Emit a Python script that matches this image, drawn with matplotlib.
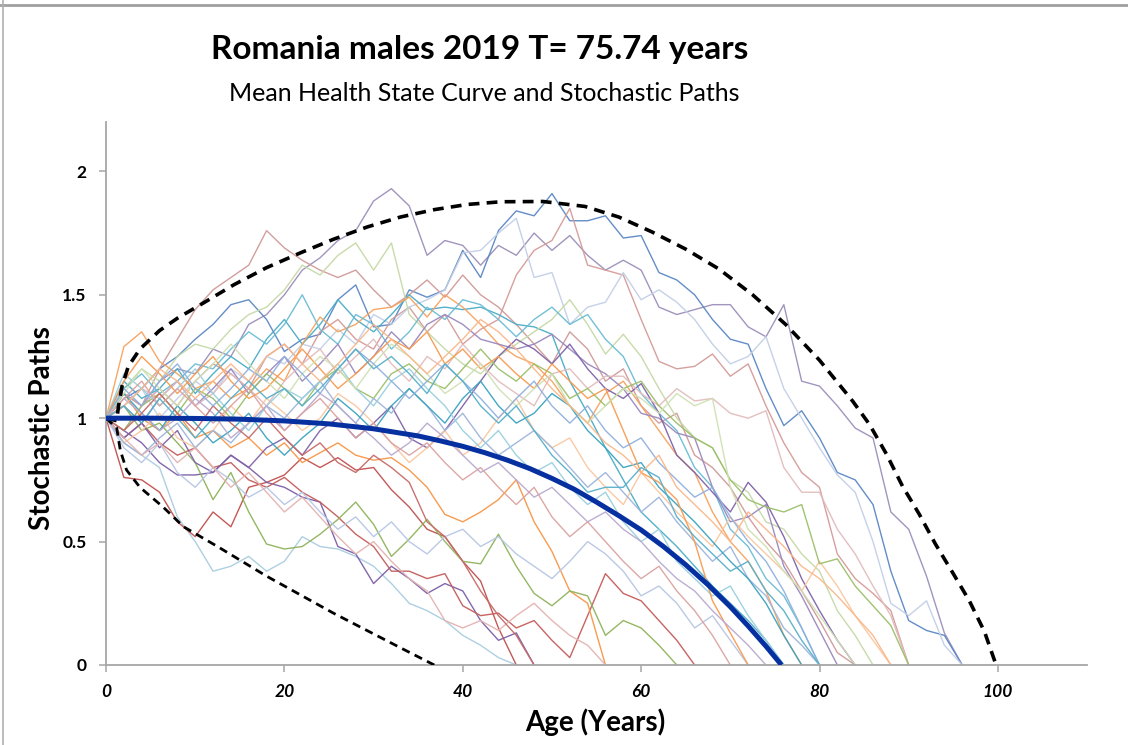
# Romania males 2019 - mean health state curve with stochastic paths
import numpy as np
import matplotlib
matplotlib.use("Agg")
import matplotlib.pyplot as plt
from matplotlib.lines import Line2D

plt.rcParams['font.family'] = ['Lato', 'DejaVu Sans']

# step between recorded path values (years)
step = 2

# stochastic paths, one value every 2 years from age 0 until the path hits 0
path_01 = [1.0, 1.10, 1.05, 1.15, 1.20, 1.18, 1.28, 1.25, 1.38, 1.42, 1.50, 1.60, 1.65, 1.72, 1.76, 1.88, 1.93, 1.86,
           1.66, 1.72, 1.70, 1.62, 1.70, 1.66, 1.75, 1.68, 1.74, 1.66, 1.60, 1.64, 1.60, 1.45, 1.42, 1.44, 1.46, 1.46,
           1.37, 1.33, 1.46, 1.15, 1.13, 1.05, 0.96, 0.92, 0.62, 0.55, 0.36, 0.13, 0.0]
path_02 = [1.0, 1.08, 1.12, 1.20, 1.25, 1.32, 1.38, 1.46, 1.48, 1.40, 1.27, 1.32, 1.34, 1.48, 1.54, 1.37, 1.38, 1.52,
           1.49, 1.52, 1.68, 1.57, 1.76, 1.84, 1.82, 1.91, 1.80, 1.80, 1.82, 1.73, 1.74, 1.59, 1.56, 1.50, 1.40, 1.32,
           1.30, 1.12, 0.97, 1.03, 0.92, 0.78, 0.75, 0.65, 0.38, 0.18, 0.14, 0.12, 0.0]
path_03 = [1.0, 1.10, 1.05, 1.20, 1.32, 1.44, 1.52, 1.57, 1.62, 1.76, 1.69, 1.64, 1.60, 1.57, 1.60, 1.52, 1.45, 1.50,
           1.56, 1.49, 1.58, 1.50, 1.45, 1.38, 1.30, 1.22, 1.35, 1.28, 1.15, 1.20, 1.05, 0.98, 1.02, 0.85, 0.80, 0.72,
           0.60, 0.50, 0.42, 0.30, 0.18, 0.05, 0.0]
path_04 = [1.0, 0.95, 1.05, 1.12, 1.05, 1.15, 1.22, 1.18, 1.12, 1.25, 1.30, 1.22, 1.35, 1.40, 1.32, 1.28, 1.40, 1.45,
           1.35, 1.42, 1.30, 1.36, 1.40, 1.58, 1.68, 1.72, 1.85, 1.62, 1.60, 1.58, 1.40, 1.23, 1.20, 1.21, 1.26, 1.17,
           1.22, 1.05, 0.90, 0.78, 0.72, 0.45, 0.35, 0.29, 0.22, 0.0]
path_05 = [1.0, 1.05, 1.12, 1.00, 1.08, 1.15, 1.10, 1.20, 1.15, 1.25, 1.22, 1.30, 1.28, 1.36, 1.30, 1.42, 1.38, 1.45,
           1.48, 1.52, 1.67, 1.68, 1.75, 1.81, 1.57, 1.59, 1.38, 1.45, 1.47, 1.59, 1.48, 1.52, 1.47, 1.40, 1.30, 1.22,
           1.25, 1.33, 1.12, 1.00, 0.88, 0.77, 0.70, 0.50, 0.25, 0.20, 0.26, 0.08, 0.0]
path_06 = [1.0, 0.90, 0.85, 0.80, 0.60, 0.50, 0.38, 0.40, 0.44, 0.38, 0.42, 0.52, 0.48, 0.47, 0.44, 0.40, 0.33, 0.25,
           0.22, 0.18, 0.12, 0.08, 0.03, 0.0]
path_07 = [1.0, 0.76, 0.75, 0.70, 0.58, 0.52, 0.62, 0.56, 0.72, 0.74, 0.77, 0.84, 0.80, 0.84, 0.79, 0.80, 0.71, 0.64,
           0.55, 0.52, 0.42, 0.34, 0.15, 0.0]
path_08 = [1.0, 0.95, 0.90, 0.82, 0.77, 0.77, 0.78, 0.85, 0.80, 0.74, 0.72, 0.68, 0.66, 0.48, 0.45, 0.33, 0.40, 0.35,
           0.29, 0.33, 0.30, 0.18, 0.10, 0.13, 0.0]
path_09 = [1.0, 0.92, 0.98, 0.90, 0.85, 0.88, 0.80, 0.82, 0.75, 0.72, 0.76, 0.70, 0.66, 0.60, 0.53, 0.48, 0.38, 0.38,
           0.35, 0.37, 0.24, 0.20, 0.21, 0.15, 0.18, 0.10, 0.03, 0.20, 0.37, 0.29, 0.26, 0.18, 0.10, 0.0]
path_10 = [1.0, 1.10, 1.00, 0.95, 1.02, 0.92, 0.95, 0.88, 0.92, 0.85, 0.90, 0.82, 0.86, 0.90, 0.85, 0.83, 0.84, 0.79,
           0.72, 0.61, 0.58, 0.62, 0.67, 0.75, 0.58, 0.46, 0.30, 0.25, 0.0]
path_11 = [1.0, 1.05, 0.95, 0.98, 0.90, 0.82, 0.67, 0.78, 0.62, 0.49, 0.47, 0.48, 0.53, 0.59, 0.66, 0.57, 0.44, 0.51,
           0.59, 0.50, 0.42, 0.41, 0.53, 0.40, 0.29, 0.24, 0.30, 0.28, 0.12, 0.18, 0.15, 0.08, 0.0]
path_12 = [1.0, 1.15, 1.08, 1.12, 1.20, 1.10, 1.18, 1.25, 1.20, 1.32, 1.40, 1.30, 1.38, 1.48, 1.40, 1.35, 1.42, 1.50,
           1.44, 1.45, 1.44, 1.45, 1.42, 1.38, 1.37, 1.34, 1.15, 1.02, 0.88, 0.75, 0.62, 0.55, 0.48, 0.40, 0.32, 0.25,
           0.18, 0.10, 0.0]
path_13 = [1.0, 1.12, 1.20, 1.15, 1.25, 1.30, 1.28, 1.36, 1.42, 1.45, 1.52, 1.62, 1.58, 1.66, 1.71, 1.60, 1.71, 1.42,
           1.35, 1.28, 1.22, 1.18, 1.25, 1.30, 1.35, 1.40, 1.48, 1.38, 1.26, 1.34, 1.25, 1.12, 1.00, 0.92, 0.88, 0.75,
           0.70, 0.58, 0.55, 0.45, 0.38, 0.22, 0.12, 0.0]
path_14 = [1.0, 1.29, 1.35, 1.23, 1.18, 1.12, 1.15, 1.08, 1.12, 1.20, 1.15, 1.30, 1.41, 1.35, 1.38, 1.44, 1.45, 1.49,
           1.41, 1.50, 1.45, 1.38, 1.30, 1.25, 1.22, 1.15, 1.05, 0.98, 1.10, 1.15, 1.05, 0.95, 0.85, 0.78, 0.62, 0.50,
           0.42, 0.30, 0.12, 0.0]
path_15 = [1.0, 1.12, 1.18, 1.10, 1.15, 1.22, 1.20, 1.28, 1.35, 1.30, 1.38, 1.50, 1.36, 1.30, 1.42, 1.38, 1.28, 1.35,
           1.45, 1.40, 1.48, 1.46, 1.40, 1.33, 1.40, 1.45, 1.38, 1.42, 1.32, 1.25, 1.10, 1.02, 0.95, 0.80, 0.72, 0.55,
           0.48, 0.35, 0.28, 0.15, 0.0]
path_16 = [1.0, 1.05, 0.98, 1.08, 1.15, 1.05, 1.12, 1.20, 1.10, 1.18, 1.25, 1.15, 1.22, 1.30, 1.18, 1.25, 1.35, 1.28,
           1.38, 1.42, 1.38, 1.32, 1.30, 1.28, 1.30, 1.34, 1.28, 1.22, 1.18, 1.12, 1.02, 1.00, 0.94, 0.92, 0.72, 0.58,
           0.60, 0.65, 0.40, 0.28, 0.14, 0.0]
path_17 = [1.0, 0.92, 0.98, 0.88, 0.95, 0.82, 0.78, 0.85, 0.80, 0.88, 0.92, 0.85, 0.95, 1.00, 0.92, 0.98, 1.05, 0.92,
           0.88, 0.95, 1.05, 1.15, 1.25, 1.32, 1.28, 1.22, 1.30, 1.20, 1.12, 1.08, 1.14, 1.02, 0.85, 0.78, 0.70, 0.62,
           0.74, 0.66, 0.52, 0.35, 0.22, 0.10, 0.0]
path_18 = [1.0, 0.90, 0.95, 1.02, 0.92, 0.88, 0.95, 1.05, 0.98, 1.08, 1.02, 0.95, 1.00, 1.10, 1.05, 0.98, 0.90, 0.82,
           0.88, 0.95, 0.85, 0.90, 1.00, 1.08, 0.95, 0.88, 0.92, 0.80, 0.72, 0.65, 0.78, 0.70, 0.62, 0.55, 0.48, 0.60,
           0.52, 0.45, 0.38, 0.30, 0.42, 0.32, 0.20, 0.10, 0.0]
path_19 = [1.0, 1.05, 1.12, 1.08, 1.15, 1.05, 1.10, 1.18, 1.12, 1.05, 1.15, 1.22, 1.28, 1.18, 1.25, 1.32, 1.22, 1.15,
           1.25, 1.20, 1.30, 1.22, 1.15, 1.10, 1.05, 1.18, 1.20, 1.12, 1.17, 1.17, 1.10, 1.05, 1.12, 1.07, 1.08, 1.02,
           1.00, 1.03, 0.80, 0.70, 0.70, 0.55, 0.45, 0.32, 0.20, 0.0]
path_20 = [1.0, 0.95, 1.05, 1.10, 1.02, 1.12, 1.08, 1.00, 1.10, 1.18, 1.12, 1.05, 1.15, 1.20, 1.12, 1.08, 1.18, 1.22,
           1.15, 1.12, 1.20, 1.28, 1.20, 1.15, 1.22, 1.18, 1.08, 1.12, 1.05, 1.12, 1.15, 1.05, 0.98, 0.92, 0.88, 0.75,
           0.67, 0.64, 0.62, 0.65, 0.41, 0.43, 0.32, 0.24, 0.16, 0.0]
path_21 = [1.0, 0.90, 0.85, 0.92, 0.98, 0.88, 0.95, 0.90, 0.98, 1.05, 1.00, 1.08, 1.15, 1.05, 0.98, 1.08, 1.02, 1.12,
           1.05, 0.95, 1.02, 0.92, 0.85, 0.90, 0.95, 0.88, 0.80, 0.72, 0.78, 0.70, 0.62, 0.68, 0.58, 0.50, 0.42, 0.48,
           0.35, 0.28, 0.15, 0.08, 0.0]
path_22 = [1.0, 0.88, 0.82, 0.90, 0.78, 0.72, 0.80, 0.75, 0.68, 0.72, 0.65, 0.70, 0.62, 0.55, 0.60, 0.52, 0.58, 0.50,
           0.45, 0.52, 0.55, 0.48, 0.52, 0.45, 0.40, 0.35, 0.42, 0.50, 0.45, 0.38, 0.28, 0.32, 0.25, 0.15, 0.20, 0.10,
           0.0]
path_23 = [1.0, 1.10, 1.02, 0.95, 1.05, 0.98, 0.90, 0.95, 1.02, 0.92, 0.85, 0.92, 0.98, 1.08, 1.02, 0.95, 1.05, 1.12,
           1.05, 0.98, 1.08, 1.15, 1.05, 0.98, 1.02, 1.10, 1.05, 0.95, 0.88, 0.80, 0.82, 0.72, 0.65, 0.58, 0.50, 0.42,
           0.35, 0.25, 0.12, 0.0]
path_24 = [1.0, 1.18, 1.12, 1.05, 1.12, 1.20, 1.10, 1.02, 0.95, 1.05, 1.12, 1.08, 1.15, 1.22, 1.12, 1.05, 1.15, 1.20,
           1.12, 1.05, 0.95, 0.88, 0.95, 0.85, 0.78, 0.82, 0.72, 0.65, 0.70, 0.58, 0.50, 0.55, 0.42, 0.35, 0.28, 0.32,
           0.20, 0.10, 0.0]
path_25 = [1.0, 1.15, 1.25, 1.18, 1.10, 1.18, 1.25, 1.15, 1.08, 1.12, 1.20, 1.28, 1.20, 1.12, 1.18, 1.25, 1.32, 1.28,
           1.35, 1.22, 1.28, 1.20, 1.25, 1.18, 1.12, 1.22, 1.15, 1.08, 1.12, 0.95, 0.78, 0.74, 0.67, 0.50, 0.26, 0.13,
           0.0]
path_26 = [1.0, 0.92, 0.85, 0.90, 0.82, 0.88, 0.80, 0.72, 0.78, 0.70, 0.62, 0.68, 0.60, 0.52, 0.45, 0.50, 0.42, 0.35,
           0.30, 0.18, 0.15, 0.18, 0.14, 0.20, 0.25, 0.18, 0.12, 0.08, 0.0]
path_27 = [1.0, 1.08, 1.02, 0.95, 1.00, 1.08, 1.02, 0.92, 0.98, 1.05, 0.95, 1.02, 1.10, 1.05, 0.98, 0.92, 0.85, 0.90,
           0.98, 0.92, 0.85, 0.78, 0.82, 0.75, 0.68, 0.72, 0.65, 0.58, 0.62, 0.55, 0.50, 0.42, 0.35, 0.30, 0.22, 0.15,
           0.08, 0.0]
path_28 = [1.0, 1.10, 1.20, 1.12, 1.05, 1.15, 1.22, 1.30, 1.22, 1.15, 1.08, 1.18, 1.25, 1.20, 1.12, 1.22, 1.30, 1.25,
           1.18, 1.10, 1.15, 1.22, 1.12, 1.05, 1.12, 1.18, 1.05, 0.98, 1.05, 1.12, 1.08, 1.02, 1.10, 1.05, 1.08, 0.72,
           0.55, 0.48, 0.38, 0.30, 0.20, 0.10, 0.0]
path_29 = [1.0, 0.95, 1.02, 1.10, 1.02, 0.95, 1.05, 0.98, 0.92, 1.00, 0.92, 0.85, 0.90, 0.82, 0.78, 0.85, 0.80, 0.74,
           0.58, 0.52, 0.42, 0.30, 0.20, 0.12, 0.0]
path_30 = [1.0, 1.08, 1.15, 1.05, 1.12, 1.05, 0.98, 1.05, 1.12, 1.02, 0.95, 1.02, 1.08, 1.00, 0.92, 0.98, 0.90, 0.85,
           0.90, 0.82, 0.75, 0.80, 0.72, 0.65, 0.72, 0.60, 0.52, 0.58, 0.50, 0.42, 0.35, 0.40, 0.30, 0.22, 0.12, 0.0]
path_31 = [1.0, 1.12, 1.05, 1.15, 1.22, 1.12, 1.05, 1.12, 1.20, 1.15, 1.25, 1.18, 1.10, 1.20, 1.28, 1.22, 1.15, 1.08,
           1.15, 1.22, 1.15, 1.08, 1.00, 1.08, 1.15, 1.05, 0.98, 1.05, 0.95, 0.88, 0.92, 0.82, 0.75, 0.68, 0.72, 0.60,
           0.50, 0.42, 0.30, 0.15, 0.0]
path_32 = [1.0, 1.05, 1.12, 1.20, 1.15, 1.08, 1.15, 1.22, 1.15, 1.25, 1.30, 1.22, 1.15, 1.22, 1.30, 1.38, 1.32, 1.25,
           1.18, 1.25, 1.32, 1.40, 1.35, 1.28, 1.20, 1.12, 1.05, 0.98, 0.90, 0.85, 0.78, 0.85, 0.72, 0.65, 0.58, 0.50,
           0.62, 0.55, 0.48, 0.40, 0.35, 0.28, 0.20, 0.12, 0.0]
path_33 = [1.0, 1.05, 0.98, 1.08, 1.00, 0.92, 1.00, 1.08, 1.15, 1.08, 1.12, 1.05, 1.12, 1.20, 1.28, 1.20, 1.25, 1.18,
           1.10, 1.22, 1.15, 1.05, 0.98, 1.05, 0.95, 0.85, 0.78, 0.70, 0.72, 0.72, 0.80, 0.76, 0.60, 0.52, 0.45, 0.38,
           0.42, 0.30, 0.22, 0.10, 0.0]

paths = [path_01, path_02, path_03, path_04, path_05, path_06, path_07, path_08, path_09, path_10, path_11,
         path_12, path_13, path_14, path_15, path_16, path_17, path_18, path_19, path_20, path_21, path_22,
         path_23, path_24, path_25, path_26, path_27, path_28, path_29, path_30, path_31, path_32, path_33]

path_colors = ["#9c8fba", "#5b87c5", "#cf9a98", "#d49b99", "#c2cfe6", "#a9cde0", "#c0504d", "#7b5ea7",
               "#c45c5a", "#f79646", "#8fb35a", "#4bacc6", "#c5d9a6", "#f7a25e", "#6bbcd4", "#9a88bd",
               "#7f62a8", "#fac7a0", "#e2bcbc", "#9cbf6a", "#9db5db", "#b7c6e3", "#3aa3bf", "#9ad0df",
               "#f89a50", "#e3b3b1", "#b9aacf", "#cfe0b4", "#c66a67", "#dba3a1", "#8fb0de", "#f9b88a",
               "#58b0c9"]

# mean health state curve (T = 75.74)
mean_age = [0, 5, 10, 15, 20, 25, 30, 35, 37.5, 40, 42.5, 45, 47.5, 50, 52.5, 55, 57.5, 60, 62.5, 65, 67.5,
            70, 72, 74, 75.74]
mean_val = [1.0, 1.0, 0.999, 0.996, 0.989, 0.977, 0.957, 0.928, 0.908, 0.886, 0.860, 0.830, 0.796, 0.756,
            0.712, 0.660, 0.605, 0.547, 0.480, 0.406, 0.325, 0.236, 0.158, 0.076, 0.0]

# upper and lower envelope (dashed)
upper_age = [0, 1.2, 1.4, 1.8, 2.5, 3.8, 6, 8, 10.6, 14.3, 18, 21.8, 25.5, 29.3, 33, 36.8, 40.5, 44.3, 49, 53.7,
             57.5, 61.2, 65, 68.7, 72.5, 76.2, 80, 83.7, 85.6, 87.5, 89.3, 91.2, 93, 95, 96.8, 98.5, 99.8]
upper_val = [1.0, 0.99, 1.05, 1.13, 1.21, 1.28, 1.355, 1.405, 1.46, 1.54, 1.61, 1.67, 1.725, 1.775, 1.815,
             1.845, 1.866, 1.877, 1.878, 1.858, 1.815, 1.755, 1.685, 1.605, 1.50, 1.38, 1.235, 1.07, 0.975,
             0.855, 0.725, 0.61, 0.49, 0.37, 0.26, 0.135, 0.0]
lower_age = [0, 1.2, 1.6, 2.3, 3.8, 6.4, 8.7, 12.5, 18, 25.5, 33, 36.8]
lower_val = [1.0, 0.96, 0.87, 0.79, 0.72, 0.64, 0.56, 0.48, 0.36, 0.21, 0.07, 0.0]

x_ticks = [0, 20, 40, 60, 80, 100]
y_ticks = [0, 0.5, 1, 1.5, 2]
y_tick_labels = ["0", "0.5", "1", "1.5", "2"]

fig = plt.figure(figsize=(11.28, 7.45), dpi=100)
ax = fig.add_axes([0.094, 0.1074, 0.8697, 0.7288])

for vals, col in zip(paths, path_colors):
    ages = np.arange(len(vals)) * step
    ax.plot(ages, vals, color=col, lw=1.0, alpha=0.95, zorder=2)

ax.plot(lower_age, lower_val, color="black", lw=2.0, ls=(0, (3, 2)), zorder=3)
ax.plot(upper_age, upper_val, color="black", lw=2.6, ls=(0, (3, 2)), zorder=3)
ax.plot(mean_age, mean_val, color="#0630a0", lw=3.6, solid_capstyle="butt", zorder=4)

ax.set_xlim(0, 110)
ax.set_ylim(0, 2.2)
ax.set_xticks(x_ticks)
ax.set_yticks(y_ticks)
ax.set_yticklabels(y_tick_labels)
for s in ["top", "right"]:
    ax.spines[s].set_visible(False)
for s in ["left", "bottom"]:
    ax.spines[s].set_color("#a6a6a6")
    ax.spines[s].set_linewidth(1.3)
ax.tick_params(axis="both", direction="out", length=5, width=1.1, color="#a6a6a6")
ax.tick_params(axis="y", pad=9)
ax.tick_params(axis="x", pad=9)
for lab in ax.get_yticklabels():
    lab.set_fontsize(12.5)
    lab.set_fontweight("bold")
for lab in ax.get_xticklabels():
    lab.set_fontsize(12.5)
    lab.set_fontweight("bold")
    lab.set_fontstyle("italic")

fig.text(0.4255, 0.934, "Romania males 2019 T= 75.74 years", ha="center", va="center",
         fontsize=24, fontweight="bold")
fig.text(0.429, 0.874, "Mean Health State Curve and Stochastic Paths", ha="center", va="center",
         fontsize=18)
fig.text(0.528, 0.031, "Age (Years)", ha="center", va="center", fontsize=20, fontweight="bold")
fig.text(0.037, 0.425, "Stochastic Paths", ha="center", va="center", rotation=90,
         fontsize=20, fontweight="bold")

# chart frame (top and left edges visible in the source)
fig.add_artist(Line2D([0, 1], [1 - 5 / 745, 1 - 5 / 745], color="#a0a0a0", lw=2, transform=fig.transFigure))
fig.add_artist(Line2D([3 / 1128, 3 / 1128], [0, 1], color="#b0b0b0", lw=1.2, transform=fig.transFigure))

fig.savefig("out.png", dpi=100)
